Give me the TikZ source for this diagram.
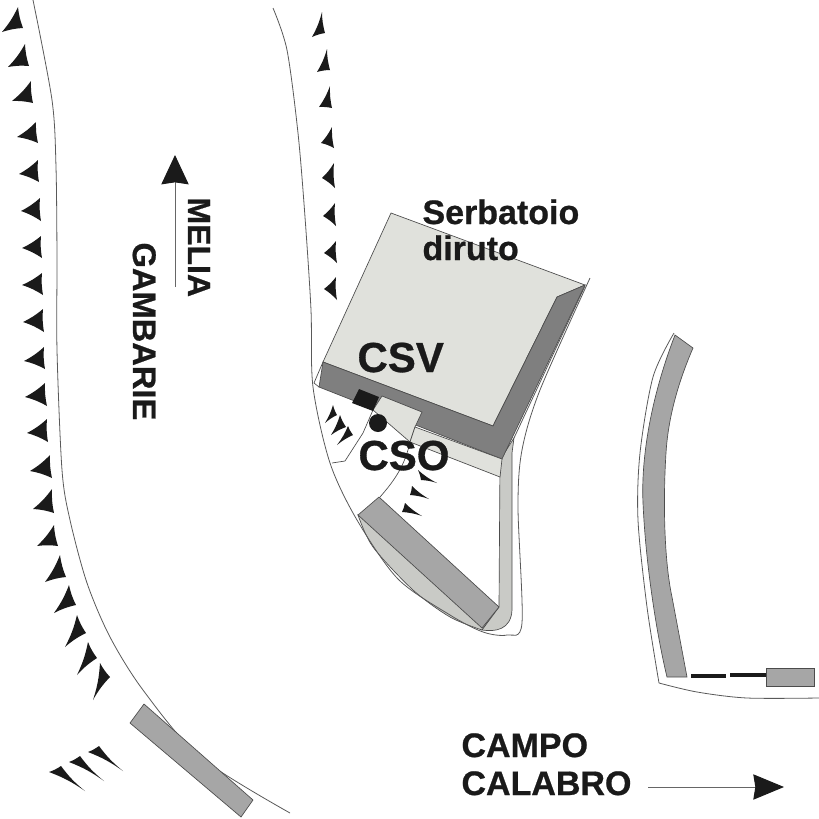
\documentclass[tikz,border=0pt]{standalone}
\usepackage{fontspec}
\setmainfont[BoldFeatures={FakeBold=0.7}]{Liberation Sans}
\usetikzlibrary{arrows.meta}
\definecolor{roofgray}{HTML}{E0E1DC}
\definecolor{wallgray}{HTML}{7F7F7F}
\definecolor{blockgray}{HTML}{A6A6A6}
\definecolor{bandgray}{HTML}{C9CAC6}
\definecolor{inkgray}{HTML}{1A1A1A}
\tikzset{every picture/.style={line width=0.75pt}}
\tikzset{
roadline/.style={draw=black!65,line width=0.6pt},
partline/.style={draw=black!70,line width=0.5pt},
barbfill/.style={fill=inkgray},
biglabel/.style={font=\fontsize{31.5pt}{36pt}\selectfont\bfseries,text=inkgray,inner sep=0pt,anchor=base west},
midlabel/.style={font=\fontsize{25.5pt}{30pt}\selectfont\bfseries,text=inkgray,inner sep=0pt,anchor=base west},
sidelabel/.style={font=\fontsize{24.5pt}{30pt}\selectfont\bfseries,text=inkgray,inner sep=0pt,anchor=base west,rotate=-90}}
\begin{document}
\begin{tikzpicture}[x=0.75pt,y=0.75pt,yscale=-1,xscale=1]
\useasboundingbox (0,0) rectangle (819,819); %picture is 819 by 819

%Shape: ramp around the long block
\draw [partline,fill=bandgray] (358,515) plot[smooth] coordinates {(358,515) (373,547) (413,590) (450,617) (482,630)} -- (499,607) -- cycle ;
\draw [partline,fill=bandgray] (500,460) -- (499,607) -- (482,630) .. controls (495,632) and (511,630) .. (512,610) -- (512,453) -- (514,438) -- cycle ;

%Curve Lines: roads
\draw [roadline] plot[smooth] coordinates {(33,0) (52,100) (56,167) (57,260) (57,350) (62,470) (70,520) (87,583) (110,637) (143,690) (200,757) (290,813)};
\draw [roadline] plot[smooth] coordinates {(273,8) (287,50) (298,133) (305,217) (311,310) (313,387) (330,463) (357,520) (398,579) (450,615) (483,632) (507,635) (522,623) (518,507) (522,450) (540,390) (590,278)};
\draw [roadline] (514,438) -- (585,286) ;
\draw [roadline] plot[smooth] coordinates {(674,333) (653,377) (640,453) (638,520) (647,607) (659,683)};
\draw [roadline] plot[smooth] coordinates {(659,683) (697,692) (747,698) (819,698)};

%Shape: tank
\draw [partline,fill=roofgray] (391,213) -- (585,285) -- (557,297) -- (493,426) -- (323,362) -- cycle ;
\draw [partline,fill=wallgray] (323,362) -- (493,426) -- (557,297) -- (585,285) -- (502,459) -- (319,387) -- cycle ;
%Straight Lines: small wedge at the tank corner
\draw [partline] (323,362) -- (314,383) -- (319,387) ;

%Shape: light ground under the tank
\draw [partline,fill=roofgray] (382,396) -- (422,412) -- (415,427) -- (410,442) -- (373,410) -- cycle ;
\draw [partline,fill=roofgray] (415,427) -- (502,459) -- (500,477) -- (410,442) -- cycle ;

%Straight Lines: fence in front of the tank
\draw [partline] (373,410) -- (363,433) -- (345,461) -- (332,463) ;
\draw [partline] (410,442) .. controls (405,465) and (395,480) .. (380,497) ;

%Shape: black box and round shaft
\fill [inkgray] (359,389) -- (379,397) -- (373,411) -- (352,403) -- cycle ;
\fill [inkgray] (378,423) circle (9) ;

%Shape: long block
\draw [partline,fill=blockgray] (379,497) -- (499,607) -- (482,628) -- (358,515) -- cycle ;
%Shape: block at the bottom
\draw [partline,fill=blockgray] (144,704) -- (253,800) -- (241,817) -- (130,723) -- cycle ;
%Shape: curved block
\draw [partline,fill=blockgray] (675,335) -- (693,348) .. controls (677,385) and (668,420) .. (666,453) .. controls (663,500) and (664,560) .. (672,597) -- (687,677) -- (667,677) .. controls (658,640) and (646,570) .. (643,503) .. controls (641,460) and (650,400) .. (675,335) -- cycle ;
%Shape: tail at the right
\draw [line width=3pt,inkgray] (691,676) -- (726,676) ;
\draw [line width=3pt,inkgray] (730,675) -- (766,675) ;
\draw [partline,fill=blockgray] (766,668) rectangle (814,686) ;

%Barbs: tip, then the two back corners
\foreach \ax/\ay/\bx/\by/\cx/\cy in {
2/32/18/7/23/28, 8/67/25/44/29/66, 12/101/31/81/33/103, 17/137/36/122/38/143,
19/174/38/160/39/182, 21/211/40/198/41/221, 22/248/41/236/42/258, 22/285/42/273/43/295,
23/322/43/309/44/332, 24/361/44/347/45/369, 25/397/45/383/47/406, 27/433/47/419/48/442,
30/471/50/455/52/478, 33/509/52/489/54/513, 37/546/54/525/58/546, 45/582/60/555/66/577,
54/613/69/585/76/605, 65/647/77/615/86/633, 77/675/88/642/97/658, 93/700/100/663/110/677,
312/37/322/12/325/33, 317/72/327/49/330/70, 319/107/330/86/332/108, 321/143/332/127/334/148,
322/178/334/163/335/188, 323/216/335/203/336/226, 324/253/336/241/337/263, 324/289/336/277/337/300,
325/423/333/405/337/415, 331/435/340/415/346/427, 337/445/348/426/353/435,
437/483/421/480/418/470, 429/499/410/495/412/486, 422/516/402/512/405/503,
123/771/88/752/99/746, 104/781/69/762/80/756, 85/791/49/772/61/766}
{
\fill [barbfill] (\ax,\ay) to[bend left=7] (\bx,\by) to[bend left=7] (\cx,\cy) to[bend left=7] cycle ;
}

%Straight Lines: direction arrows
\coordinate (meliaStart) at (175,287);
\coordinate (meliaTip) at (175,155);
\coordinate (campoStart) at (648,787);
\coordinate (campoTip) at (784,787);
\draw [draw=black!60,line width=0.75pt,-{Stealth[inkgray,length=22pt,width=20.5pt,inset=1.5pt]}] (meliaStart) -- (meliaTip) ;
\draw [draw=black!60,line width=0.75pt,-{Stealth[inkgray,length=23pt,width=19pt,inset=1.5pt]}] (campoStart) -- (campoTip) ;

%Labels
\node [midlabel] (serbatoio) at (422,224) {Serbatoio};
\node [midlabel] (diruto) at (422,260) {diruto};
\node [biglabel] (csv) at (357,372) {CSV};
\node [biglabel] (cso) at (358,470) {CSO};
\node [sidelabel,font=\fontsize{24pt}{30pt}\selectfont\bfseries] (melia) at (188,197) {MELIA};
\node [sidelabel] (gambarie) at (133,242) {GAMBARIE};
\node [midlabel] (campo) at (461,757) {CAMPO};
\node [midlabel] (calabro) at (461,795) {CALABRO};
\end{tikzpicture}
\end{document}
